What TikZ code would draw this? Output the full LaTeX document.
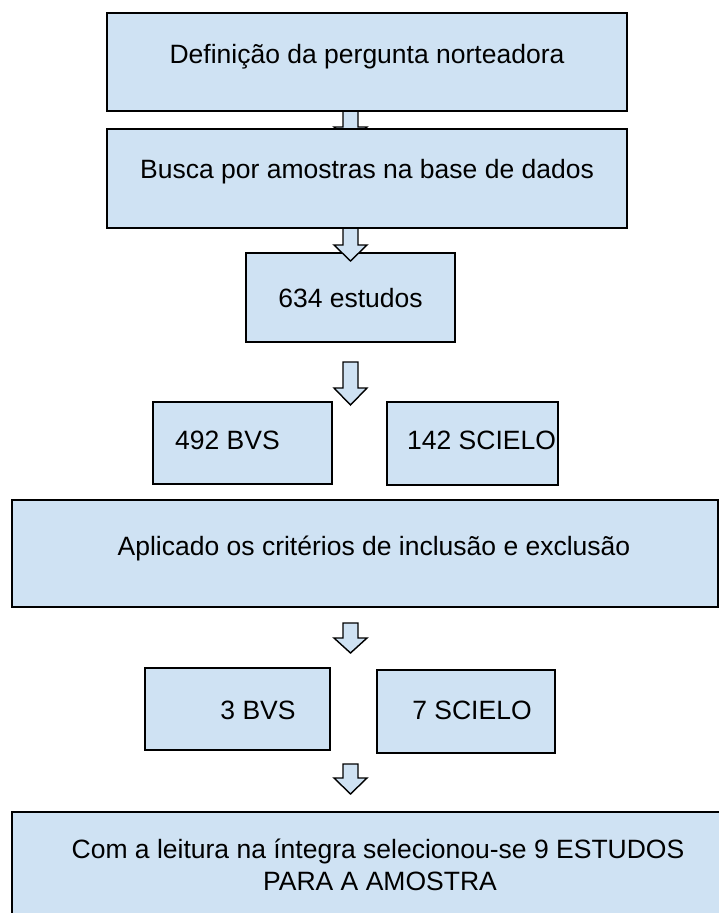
\documentclass[tikz,border=0pt]{standalone}
\usepackage{fontspec}
\setmainfont{Liberation Sans}
\definecolor{boxblue}{HTML}{CFE2F3}
\tikzset{
  x=1pt, y=-1pt,
  stepbox/.style={draw=black, fill=boxblue, line width=1.6pt, rectangle, inner sep=0pt},
  boxtext/.style={font=\fontsize{26.5}{30}\selectfont, inner sep=0pt, align=center},
  blockarrow/.style={draw=black, fill=boxblue, line width=1.4pt, line join=miter},
}
% #1 x-center, #2 stem top, #3 head base, #4 tip
\newcommand{\myblockarrow}[4]{%
  \draw[blockarrow] (#1-7.5,#2) -- (#1+7.5,#2) -- (#1+7.5,#3) -- (#1+16.5,#3) -- (#1,#4)
    -- (#1-16.5,#3) -- (#1-7.5,#3) -- cycle;}
\begin{document}
\begin{tikzpicture}
\useasboundingbox (0,0) rectangle (719,913);
\clip (0,0) rectangle (719,913);
% arrow 1 (under box 1 and box 2)
\myblockarrow{350.5}{111}{127}{143}
% box 1
\node[stepbox, minimum width=520, minimum height=98] (b1) at (367,62) {};
\node[boxtext] (t1) at (367,57) {Definição da pergunta norteadora};
% box 3
\node[stepbox, minimum width=209, minimum height=89] (b3) at (350.5,297.5) {};
\node[boxtext] (t3) at (350.5,298) {634 estudos};
% arrow 2 (over box 3)
\myblockarrow{350.5}{228}{245}{261}
% box 2
\node[stepbox, minimum width=520, minimum height=99] (b2) at (367,178.5) {};
\node[boxtext] (t2) at (367,172) {Busca por amostras na base de dados};
% arrow 3
\myblockarrow{350.5}{362}{388}{405}
% boxes 492 / 142
\node[stepbox, minimum width=179, minimum height=82] (b4) at (242.5,443) {};
\node[boxtext, anchor=west] (t4) at (175,440) {492 BVS};
\node[stepbox, minimum width=171, minimum height=83] (b5) at (472.5,443.5) {};
\node[boxtext, anchor=west] (t5) at (407,440) {142 SCIELO};
% box aplicado
\node[stepbox, minimum width=706, minimum height=107] (b6) at (365,553.5) {};
\node[boxtext] (t6) at (374,548) {Aplicado os critérios de inclusão e exclusão};
% arrow 4
\myblockarrow{350.5}{623}{638}{653}
% boxes 3 / 7
\node[stepbox, minimum width=185, minimum height=82] (b7) at (237.5,709) {};
\node[boxtext] (t7) at (258,710) {3 BVS};
\node[stepbox, minimum width=178, minimum height=83] (b8) at (466,711.5) {};
\node[boxtext] (t8) at (472,710) {7 SCIELO};
% arrow 5
\myblockarrow{350.5}{764}{778}{794}
% bottom box
\node[stepbox, minimum width=733, minimum height=130] (b9) at (378.5,877) {};
\node[boxtext] (t9) at (378,851) {Com a leitura na íntegra selecionou-se 9 ESTUDOS};
\node[boxtext] (t10) at (380,881) {PARA A AMOSTRA};
\end{tikzpicture}
\end{document}
